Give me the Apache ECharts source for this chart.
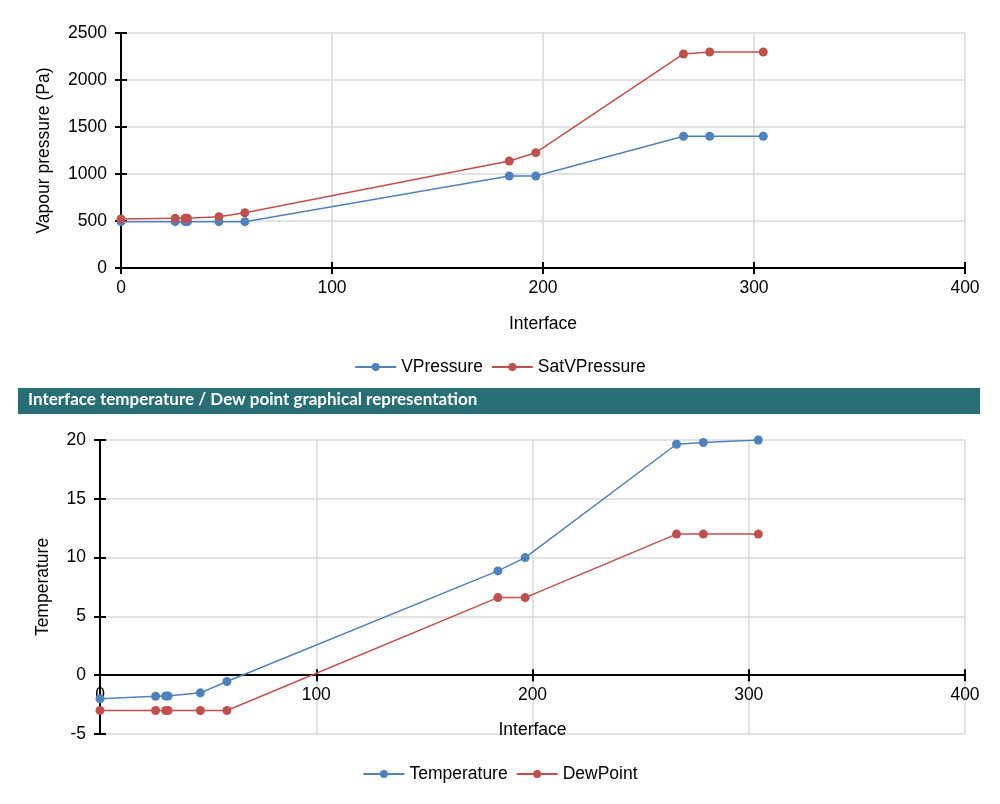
<!DOCTYPE html>
<html>
<head>
<meta charset="utf-8">
<script src="https://cdn.jsdelivr.net/npm/echarts@6/dist/echarts.min.js"></script>
<style>
html,body{margin:0;padding:0;background:#fff;}
#c{width:1000px;height:804px;}
</style>
</head>
<body>
<div id="c"></div>
<script>
// ---- data ----
const interfaces = [0, 25.7, 30.4, 31.5, 46.4, 58.7, 184, 196.6, 266.6, 279, 304.4];
const vPressure = [493, 493, 493, 493, 493, 493, 979, 979, 1401, 1401, 1401];
const satVPressure = [521, 528, 529, 529, 546, 588, 1138, 1227, 2277, 2298, 2298];
const temperature = [-2.0, -1.79, -1.77, -1.77, -1.5, -0.54, 8.87, 10.0, 19.64, 19.79, 20.0];
const dewPoint = [-3.0, -3.0, -3.0, -3.0, -3.0, -3.0, 6.6, 6.6, 12.0, 12.0, 12.0];
const seriesNamesTop = ['VPressure', 'SatVPressure'];
const seriesNamesBottom = ['Temperature', 'DewPoint'];
const bannerTitle = 'Interface temperature / Dew point graphical representation';
const xAxisName = 'Interface';
const yNameTop = 'Vapour pressure (Pa)';
const yNameBottom = 'Temperature';
const xRange = [0, 400, 100];
const yRangeTop = [0, 2500, 500];
const yRangeBottom = [-5, 20, 5];

const pairs = (xs, ys) => xs.map((x, i) => [x, ys[i]]);

const BLUE = '#4f81bd', RED = '#c0504d';
const FONT = "'Liberation Sans', Arial, sans-serif";
const FS = 17.5;
const gridLine = { show: true, lineStyle: { color: '#d9d9d9', width: 1.5 } };
const axisLineStyle = { color: '#000', width: 2 };

// grid layout
const gridTop = { left: 121, right: 35, top: 33, height: 235 };
const gridBottom = { left: 100, right: 35, top: 440, height: 294 };
// x axis of the lower chart sits on the zero line: offset from grid bottom
const zeroOffsetBottom = -((0 - yRangeBottom[0]) / (yRangeBottom[1] - yRangeBottom[0])) * gridBottom.height;

function mainX(grid, nameGap, offset) {
  return {
    type: 'value', gridIndex: grid, min: xRange[0], max: xRange[1], interval: xRange[2],
    position: 'bottom', offset: offset,
    name: xAxisName, nameLocation: 'middle', nameGap: nameGap,
    nameTextStyle: { fontFamily: FONT, fontSize: FS, color: '#000' },
    axisLine: { show: true, onZero: false, lineStyle: axisLineStyle },
    axisTick: { show: true, inside: false, length: 6, lineStyle: axisLineStyle },
    axisLabel: { margin: 11, fontFamily: FONT, fontSize: FS, color: '#000' },
    splitLine: gridLine
  };
}
function tickX(grid, offset) {
  return {
    type: 'value', gridIndex: grid, min: xRange[0], max: xRange[1], interval: xRange[2],
    position: 'bottom', offset: offset,
    axisLine: { show: false, onZero: false },
    axisTick: { show: true, inside: true, length: 6, lineStyle: axisLineStyle },
    axisLabel: { show: false }, splitLine: { show: false }
  };
}
function mainY(grid, r, name, nameGap) {
  return {
    type: 'value', gridIndex: grid, min: r[0], max: r[1], interval: r[2],
    name: name, nameLocation: 'middle', nameGap: nameGap,
    nameTextStyle: { fontFamily: FONT, fontSize: FS, color: '#000' },
    axisLine: { show: true, onZero: false, lineStyle: axisLineStyle },
    axisTick: { show: true, inside: false, length: 6, lineStyle: axisLineStyle },
    axisLabel: { margin: 14, fontFamily: FONT, fontSize: FS, color: '#000',
      formatter: v => String(v) },
    splitLine: gridLine
  };
}
function tickY(grid, r) {
  return {
    type: 'value', gridIndex: grid, min: r[0], max: r[1], interval: r[2], position: 'left',
    axisLine: { show: false, onZero: false },
    axisTick: { show: true, inside: true, length: 6, lineStyle: axisLineStyle },
    axisLabel: { show: false }, splitLine: { show: false }
  };
}
function lineSeries(name, color, xi, yi, data) {
  return {
    type: 'line', name: name, xAxisIndex: xi, yAxisIndex: yi, data: data,
    symbol: 'circle', symbolSize: 9, showSymbol: true,
    lineStyle: { color: color, width: 1.5 },
    itemStyle: { color: color }
  };
}

const chart = echarts.init(document.getElementById('c'), null, { renderer: 'canvas' });
chart.setOption({
  animation: false,
  backgroundColor: '#fff',
  grid: [
    Object.assign({ containLabel: false }, gridTop),
    Object.assign({ containLabel: false }, gridBottom)
  ],
  xAxis: [mainX(0, 47, 0), mainX(1, 46, zeroOffsetBottom), tickX(0, 0), tickX(1, zeroOffsetBottom)],
  yAxis: [
    mainY(0, yRangeTop, yNameTop, 68),
    mainY(1, yRangeBottom, yNameBottom, 48),
    tickY(0, yRangeTop),
    tickY(1, yRangeBottom)
  ],
  legend: [
    { data: seriesNamesTop, top: 353, left: 'center', itemWidth: 41, itemHeight: 10, itemGap: 8,
      textStyle: { fontFamily: FONT, fontSize: FS, color: '#000' } },
    { data: seriesNamesBottom, top: 760, left: 'center', itemWidth: 41, itemHeight: 10, itemGap: 8,
      textStyle: { fontFamily: FONT, fontSize: FS, color: '#000' } }
  ],
  graphic: [
    { type: 'rect', left: 18, top: 388, shape: { width: 962, height: 26 },
      style: { fill: '#276f75' }, silent: true },
    { type: 'text', left: 28, top: 391,
      style: { text: bannerTitle, fill: '#fff', font: 'bold 17px Lato, sans-serif' }, silent: true }
  ],
  series: [
    lineSeries(seriesNamesTop[0], BLUE, 0, 0, pairs(interfaces, vPressure)),
    lineSeries(seriesNamesTop[1], RED, 0, 0, pairs(interfaces, satVPressure)),
    lineSeries(seriesNamesBottom[0], BLUE, 1, 1, pairs(interfaces, temperature)),
    lineSeries(seriesNamesBottom[1], RED, 1, 1, pairs(interfaces, dewPoint))
  ]
});
</script>
</body>
</html>
